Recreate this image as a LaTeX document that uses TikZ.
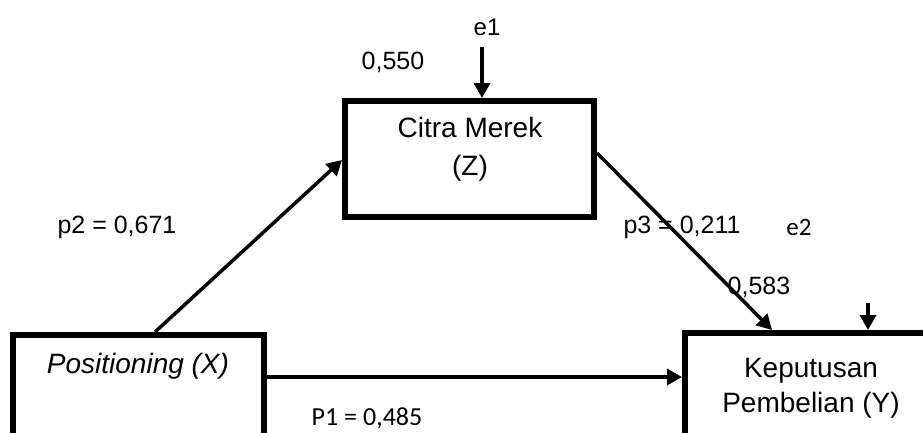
\documentclass[tikz,border=0pt]{standalone}
\usepackage{fontspec}
\setmainfont{Liberation Sans}
\newfontfamily\carlitofont{Carlito}
\usetikzlibrary{arrows.meta}
\tikzset{
  boxnode/.style={draw, line width=6pt, rectangle, inner sep=0pt},
  boxtext/.style={inner sep=0pt, align=center, font=\fontsize{28}{38}\selectfont},
  lbl/.style={inner sep=0pt, font=\fontsize{25}{30}\selectfont},
  clbl/.style={inner sep=0pt, font=\carlitofont\fontsize{26}{30}\selectfont},
  conn/.style={line width=3.5pt, -{Triangle[length=15pt,width=16pt]}},
  plain/.style={line width=3.5pt}
}
\begin{document}
\begin{tikzpicture}[x=1pt,y=-1pt]
\useasboundingbox (0,0) rectangle (923,432);
\clip (0,0) rectangle (923,432);
\fill[white] (0,0) rectangle (923,432);
% boxes
\node[boxnode, minimum width=249pt, minimum height=116pt] (citra) at (469.5,159) {};
\node[boxnode, minimum width=251pt, minimum height=145pt] (pos) at (138.5,407.5) {};
\node[boxnode, minimum width=275pt, minimum height=147pt] (kep) at (822.5,406.5) {};
% box texts
\node[boxtext] (citratext) at (470,149) {Citra Merek\\(Z)};
\node[boxtext, font=\itshape\fontsize{28}{38}\selectfont] (postext) at (138,366) {Positioning (X)};
\node[boxtext, font=\fontsize{28}{35}\selectfont] (keptext) at (811,388) {Keputusan\\Pembelian (Y)};
% coordinates
\coordinate (e1s) at (482,47);
\coordinate (e2s) at (868,303);
\coordinate (p2s) at (155,332);
\coordinate (p2e) at (342,160);
\coordinate (p3s) at (597,153);
\coordinate (p3e) at (772,330);
\coordinate (p1y) at (0,377);
% connectors
\draw[conn] (e1s) -- (citra.north -| e1s);
\draw[conn] (e2s) -- (kep.north -| e2s);
\draw[conn] (pos.north -| p2s) -- (citra.west |- p2e);
\draw[conn] (citra.east |- p3s) -- (kep.north -| p3e);
\draw[conn] (pos.east |- p1y) -- (kep.west |- p1y);
% labels
\node[lbl, font=\fontsize{24}{30}\selectfont] (e1) at (487,27) {e1};
\node[lbl] (r1) at (393,62) {0,550};
\node[lbl] (p2) at (117,227) {p2 = 0,671};
\node[lbl] (p3) at (682,227) {p3 = 0,211};
\node[clbl, font=\carlitofont\fontsize{25}{30}\selectfont] (e2) at (799,227) {e2};
\node[lbl] (r2) at (759,287) {0,583};
\node[clbl] (p1) at (367,418) {P1 = 0,485};
\end{tikzpicture}
\end{document}
